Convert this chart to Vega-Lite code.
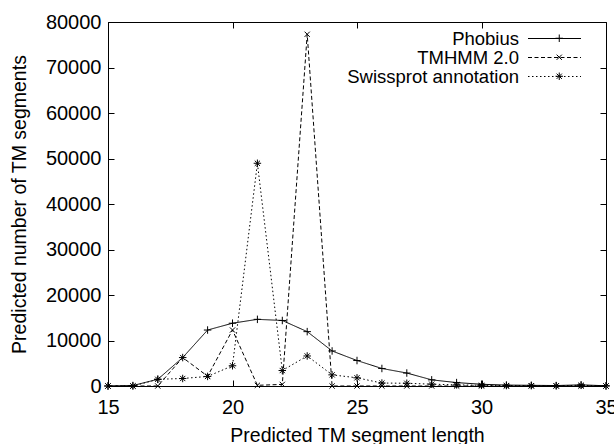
{
  "$schema": "https://vega.github.io/schema/vega-lite/v6.json",
  "autosize": "none",
  "width": 498,
  "height": 364,
  "padding": {"left": 108, "top": 22, "right": 8, "bottom": 58},
  "background": "white",
  "config": {
    "font": "Liberation Sans",
    "view": {"stroke": "black", "strokeWidth": 1},
    "axis": {
      "domainColor": "black",
      "tickColor": "black",
      "labelColor": "black",
      "titleColor": "black",
      "labelFont": "Liberation Sans",
      "titleFont": "Liberation Sans",
      "labelFontSize": 20,
      "titleFontSize": 19.5,
      "titleFontWeight": "normal",
      "grid": false,
      "tickSize": -6,
      "tickWidth": 1,
      "domainWidth": 1
    },
    "legend": {
      "labelFont": "Liberation Sans",
      "labelFontSize": 18.5,
      "labelColor": "black",
      "padding": 0
    }
  },
  "data": {
    "values": [
      {"x": 15, "series": "Phobius", "value": 0},
      {"x": 16, "series": "Phobius", "value": 100},
      {"x": 17, "series": "Phobius", "value": 1470},
      {"x": 18, "series": "Phobius", "value": 6250},
      {"x": 19, "series": "Phobius", "value": 12300},
      {"x": 20, "series": "Phobius", "value": 13800},
      {"x": 21, "series": "Phobius", "value": 14650},
      {"x": 22, "series": "Phobius", "value": 14400},
      {"x": 23, "series": "Phobius", "value": 11950},
      {"x": 24, "series": "Phobius", "value": 7700},
      {"x": 25, "series": "Phobius", "value": 5600},
      {"x": 26, "series": "Phobius", "value": 3850},
      {"x": 27, "series": "Phobius", "value": 2850},
      {"x": 28, "series": "Phobius", "value": 1350},
      {"x": 29, "series": "Phobius", "value": 750},
      {"x": 30, "series": "Phobius", "value": 380},
      {"x": 31, "series": "Phobius", "value": 200},
      {"x": 32, "series": "Phobius", "value": 150},
      {"x": 33, "series": "Phobius", "value": 100},
      {"x": 34, "series": "Phobius", "value": 250},
      {"x": 35, "series": "Phobius", "value": 50},
      {"x": 15, "series": "TMHMM 2.0", "value": 0},
      {"x": 16, "series": "TMHMM 2.0", "value": 0},
      {"x": 17, "series": "TMHMM 2.0", "value": 0},
      {"x": 18, "series": "TMHMM 2.0", "value": 6250},
      {"x": 19, "series": "TMHMM 2.0", "value": 2150},
      {"x": 20, "series": "TMHMM 2.0", "value": 12300},
      {"x": 21, "series": "TMHMM 2.0", "value": 150},
      {"x": 22, "series": "TMHMM 2.0", "value": 350},
      {"x": 23, "series": "TMHMM 2.0", "value": 77300},
      {"x": 24, "series": "TMHMM 2.0", "value": 0},
      {"x": 25, "series": "TMHMM 2.0", "value": 0},
      {"x": 26, "series": "TMHMM 2.0", "value": 0},
      {"x": 27, "series": "TMHMM 2.0", "value": 0},
      {"x": 28, "series": "TMHMM 2.0", "value": 0},
      {"x": 29, "series": "TMHMM 2.0", "value": 0},
      {"x": 30, "series": "TMHMM 2.0", "value": 0},
      {"x": 31, "series": "TMHMM 2.0", "value": 0},
      {"x": 32, "series": "TMHMM 2.0", "value": 0},
      {"x": 33, "series": "TMHMM 2.0", "value": 0},
      {"x": 34, "series": "TMHMM 2.0", "value": 0},
      {"x": 35, "series": "TMHMM 2.0", "value": 0},
      {"x": 15, "series": "Swissprot annotation", "value": 0},
      {"x": 16, "series": "Swissprot annotation", "value": 0},
      {"x": 17, "series": "Swissprot annotation", "value": 1470},
      {"x": 18, "series": "Swissprot annotation", "value": 1650},
      {"x": 19, "series": "Swissprot annotation", "value": 2100},
      {"x": 20, "series": "Swissprot annotation", "value": 4450},
      {"x": 21, "series": "Swissprot annotation", "value": 48950},
      {"x": 22, "series": "Swissprot annotation", "value": 3400},
      {"x": 23, "series": "Swissprot annotation", "value": 6600},
      {"x": 24, "series": "Swissprot annotation", "value": 2450},
      {"x": 25, "series": "Swissprot annotation", "value": 1800},
      {"x": 26, "series": "Swissprot annotation", "value": 650},
      {"x": 27, "series": "Swissprot annotation", "value": 600},
      {"x": 28, "series": "Swissprot annotation", "value": 400},
      {"x": 29, "series": "Swissprot annotation", "value": 250},
      {"x": 30, "series": "Swissprot annotation", "value": 150},
      {"x": 31, "series": "Swissprot annotation", "value": 100},
      {"x": 32, "series": "Swissprot annotation", "value": 80},
      {"x": 33, "series": "Swissprot annotation", "value": 50},
      {"x": 34, "series": "Swissprot annotation", "value": 150},
      {"x": 35, "series": "Swissprot annotation", "value": 0}
    ]
  },
  "layer": [
    {
      "mark": {"type": "line", "color": "black", "strokeWidth": 1, "clip": true},
      "encoding": {
        "x": {
          "field": "x", "type": "quantitative",
          "scale": {"domain": [15, 35], "nice": false, "zero": false},
          "axis": {"orient": "bottom", "values": [15, 20, 25, 30, 35], "title": "Predicted TM segment length", "labelPadding": 17, "titlePadding": 9, "labelFlush": false}
        },
        "y": {
          "field": "value", "type": "quantitative",
          "scale": {"domain": [0, 80000], "nice": false},
          "axis": {"orient": "left", "values": [0, 10000, 20000, 30000, 40000, 50000, 60000, 70000, 80000], "format": "d", "title": "Predicted number of TM segments", "labelPadding": 13, "titlePadding": 16}
        },
        "strokeDash": {
          "field": "series", "type": "nominal",
          "scale": {"domain": ["Phobius", "TMHMM 2.0", "Swissprot annotation"], "range": [[1, 0], [4, 2.5], [1.5, 2.5]]},
          "legend": {
            "orient": "none", "legendX": 437, "legendY": 7,
            "title": null, "symbolType": "M-3,0L3,0", "symbolSize": 312,
            "symbolStrokeWidth": 1, "symbolStrokeColor": "black",
            "labelAlign": "right", "labelOffset": -45, "labelLimit": 0,
            "rowPadding": -1.5, "symbolOffset": 0
          }
        }
      }
    },
    {
      "mark": {"type": "point", "filled": false, "color": "black", "strokeWidth": 1, "size": 56, "opacity": 1},
      "encoding": {
        "x": {
          "field": "x", "type": "quantitative",
          "scale": {"domain": [15, 35], "nice": false, "zero": false},
          "axis": {"orient": "top", "values": [15, 20, 25, 30, 35], "labels": false, "title": null, "domain": false}
        },
        "y": {
          "field": "value", "type": "quantitative",
          "scale": {"domain": [0, 80000], "nice": false},
          "axis": {"orient": "right", "values": [0, 10000, 20000, 30000, 40000, 50000, 60000, 70000, 80000], "labels": false, "title": null, "domain": false}
        },
        "shape": {
          "field": "series", "type": "nominal",
          "scale": {"domain": ["Phobius", "TMHMM 2.0", "Swissprot annotation"], "range": ["M-1,0L1,0M0,-1L0,1", "M-0.7,-0.7L0.7,0.7M-0.7,0.7L0.7,-0.7", "M-1,0L1,0M0,-1L0,1M-0.7,-0.7L0.7,0.7M-0.7,0.7L0.7,-0.7"]},
          "legend": {
            "orient": "none", "legendX": 442, "legendY": 7,
            "title": null, "symbolSize": 56,
            "symbolStrokeWidth": 1, "symbolStrokeColor": "black", "symbolFillColor": "transparent",
            "labelExpr": "' '", "labelLimit": 0,
            "rowPadding": -1.5, "symbolOffset": 0
          }
        }
      }
    }
  ],
  "resolve": {
    "axis": {"x": "independent", "y": "independent"},
    "legend": {"shape": "independent", "strokeDash": "independent"}
  }
}
